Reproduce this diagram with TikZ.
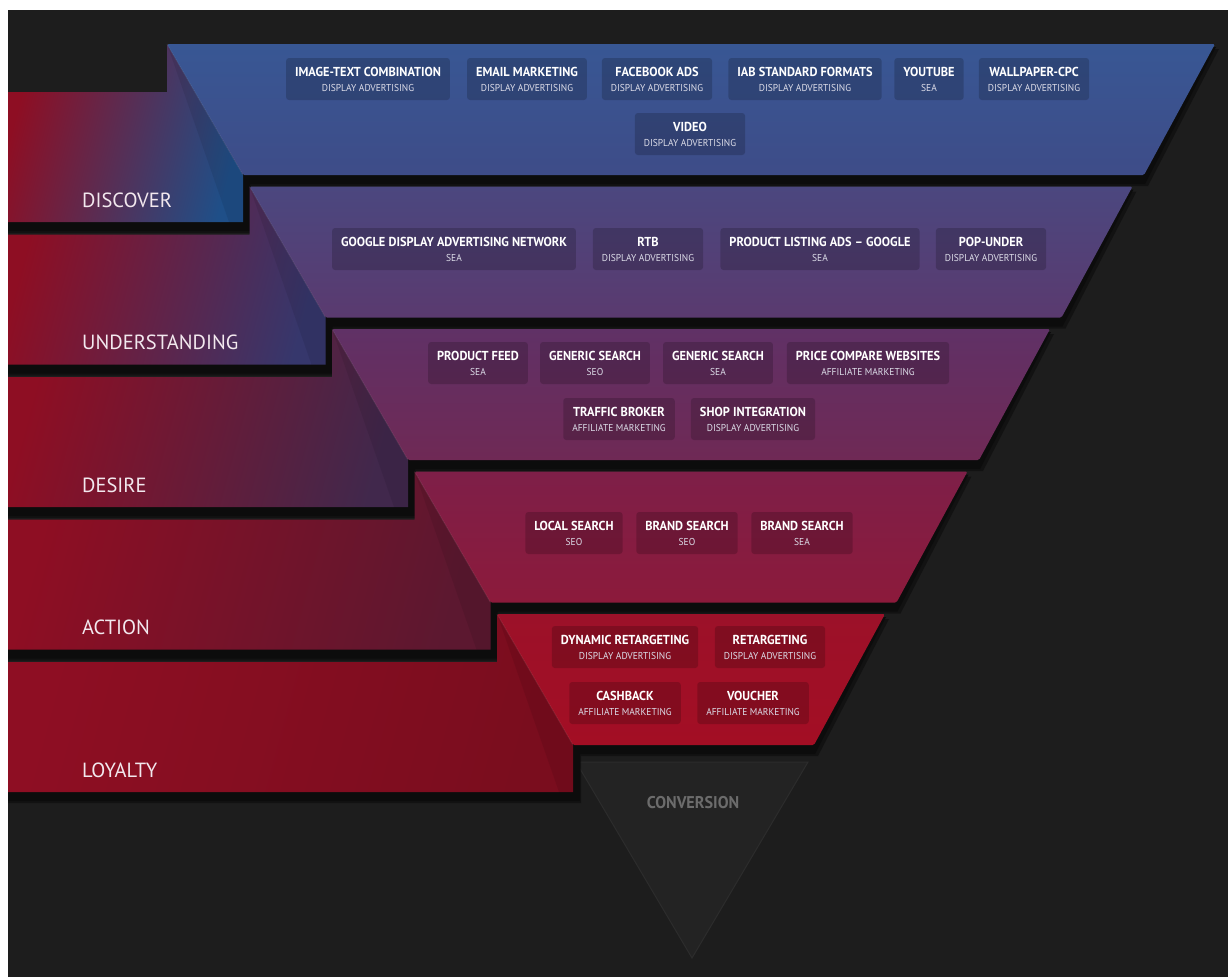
\documentclass[tikz,border=0pt]{standalone}
\usepackage{fontspec}
\setmainfont{PT Sans}
\newfontfamily\chipfont[FakeStretch=0.95]{PT Sans}
\usetikzlibrary{calc}

% page and background
\definecolor{pagebg}{HTML}{1D1D1D}
\definecolor{shadowc}{HTML}{0C0C0C}
% front faces of the five funnel levels (top / bottom)
\definecolor{fa1}{HTML}{385794}\definecolor{fb1}{HTML}{3E4C88}
\definecolor{fa2}{HTML}{4B477F}\definecolor{fb2}{HTML}{5A3A6F}
\definecolor{fa3}{HTML}{603166}\definecolor{fb3}{HTML}{6F2955}
\definecolor{fa4}{HTML}{7E1F48}\definecolor{fb4}{HTML}{8C1A3B}
\definecolor{fa5}{HTML}{9C1129}\definecolor{fb5}{HTML}{A30E24}
% side faces: red on the left, level tint on the right
\definecolor{sideleft}{HTML}{8E0E23}
\definecolor{sr1}{HTML}{1F4F88}
\definecolor{sr2}{HTML}{36376C}
\definecolor{sr3}{HTML}{41284C}
\definecolor{sr4}{HTML}{5C1830}
\definecolor{sr5}{HTML}{7A0D1E}
\definecolor{labeltext}{HTML}{F2E8EE}
\definecolor{subtext}{HTML}{DCDCE8}
\definecolor{convfill}{HTML}{232323}
\definecolor{convedge}{HTML}{2C2C2C}
\definecolor{convtext}{HTML}{6C6C6C}

\newcommand\chiptxt[2]{{\bfseries\fontsize{13}{14}\selectfont #1}\\[3pt]{\fontsize{10}{11}\selectfont\color{subtext}#2}}

\begin{document}
\begin{tikzpicture}[x=1pt,y=-1pt,
  chip/.style={fill=black, fill opacity=0.18, text opacity=1, text=white,
    rounded corners=3pt, inner xsep=9pt, inner ysep=3pt, align=center,
    minimum height=42pt, font=\chipfont},
  bandlabel/.style={text=labeltext, inner sep=0pt, anchor=base west,
    font=\fontsize{20.5}{22}\selectfont},
  convlabel/.style={text=convtext, inner sep=0pt,
    font=\chipfont\bfseries\fontsize{17}{19}\selectfont}]

\useasboundingbox (0,0) rectangle (1228,977);
\fill[white] (0,0) rectangle (1228,977);
\fill[pagebg] (8,10) rectangle (1228,977);

% conversion triangle below the funnel
\filldraw[fill=convfill, draw=convedge, line width=1pt] (576,762) -- (808,762) -- (692,958) -- cycle;
\node[convlabel] (conv) at (693,803) {CONVERSION};

% drop shadows of the five levels
\foreach \i in {1,...,5} {
  \pgfmathsetmacro\T{44+142.5*(\i-1)}
  \pgfmathsetmacro\B{\T+131}
  \pgfmathsetmacro\BT{\T+48}
  \pgfmathsetmacro\BB{\T+178}
  \pgfmathsetmacro\xL{167+82.5*(\i-1)}
  \pgfmathsetmacro\xLb{\xL+76}
  \pgfmathsetmacro\xR{1215-82.5*(\i-1)}
  \pgfmathsetmacro\xRb{\xR-71}
  \fill[shadowc, opacity=0.6] (8,{\BT+5}) -- ({\xL+4},{\BT+5}) -- ({\xL+4},{\T+5}) -- ({\xR+4},{\T+5})
     -- ({\xRb+4},{\B+11}) -- ({\xLb+8},{\B+11}) -- ({\xLb+8},{\BB+11}) -- (8,{\BB+11}) -- cycle;
  \fill[shadowc] (8,{\BT+3}) -- ({\xL+2},{\BT+3}) -- ({\xL+2},{\T+3}) -- ({\xR+1},{\T+3})
     -- ({\xRb+1},{\B+9}) -- ({\xLb+7},{\B+9}) -- ({\xLb+7},{\BB+9}) -- (8,{\BB+9}) -- cycle;
}

% the five levels: side face with label band, and front trapezoid
\foreach \i in {1,...,5} {
  \pgfmathsetmacro\T{44+142.5*(\i-1)}
  \pgfmathsetmacro\B{\T+131}
  \pgfmathsetmacro\BT{\T+48}
  \pgfmathsetmacro\BB{\T+178}
  \pgfmathsetmacro\xL{167+82.5*(\i-1)}
  \pgfmathsetmacro\xLb{\xL+76}
  \pgfmathsetmacro\xR{1215-82.5*(\i-1)}
  \pgfmathsetmacro\xRb{\xR-71}
  \shade[left color=sideleft, right color=sr\i, shading angle=75]
     (8,\BT) -- (\xL,\BT) -- (\xL,\T) -- (\xLb,\B) -- (\xLb,\BB) -- (8,\BB) -- cycle;
  \fill[black, opacity=0.08] (\xL,\T) -- (\xLb,\B) -- (\xLb,\BB) -- ({\xLb-14},\BB) -- cycle;
  \shade[top color=fa\i, bottom color=fb\i, rounded corners=1.5pt]
     (\xL,\T) -- (\xR,\T) -- (\xRb,\B) -- (\xLb,\B) -- cycle;
  \draw[white, opacity=0.07, line width=1pt] (\xL,\T) -- (\xLb,\B);
}

% level labels
\node[bandlabel] (discover) at (82,207) {DISCOVER};
\node[bandlabel] (understanding) at (82,349.5) {UNDERSTANDING};
\node[bandlabel] (desire) at (82,492) {DESIRE};
\node[bandlabel] (action) at (82,634.5) {ACTION};
\node[bandlabel] (loyalty) at (82,777) {LOYALTY};

% DISCOVER channels
\node[chip] (imagetext) at (368,79) {\chiptxt{IMAGE-TEXT COMBINATION}{DISPLAY ADVERTISING}};
\node[chip] (email) at (527,79) {\chiptxt{EMAIL MARKETING}{DISPLAY ADVERTISING}};
\node[chip] (facebook) at (657,79) {\chiptxt{FACEBOOK ADS}{DISPLAY ADVERTISING}};
\node[chip] (iab) at (805,79) {\chiptxt{IAB STANDARD FORMATS}{DISPLAY ADVERTISING}};
\node[chip] (youtube) at (929,79) {\chiptxt{YOUTUBE}{SEA}};
\node[chip] (wallpaper) at (1034,79) {\chiptxt{WALLPAPER-CPC}{DISPLAY ADVERTISING}};
\node[chip] (video) at (690,134) {\chiptxt{VIDEO}{DISPLAY ADVERTISING}};

% UNDERSTANDING channels
\node[chip] (gdn) at (454,249) {\chiptxt{GOOGLE DISPLAY ADVERTISING NETWORK}{SEA}};
\node[chip] (rtb) at (648,249) {\chiptxt{RTB}{DISPLAY ADVERTISING}};
\node[chip] (pla) at (820,249) {\chiptxt{PRODUCT LISTING ADS – GOOGLE}{SEA}};
\node[chip] (popunder) at (991,249) {\chiptxt{POP-UNDER}{DISPLAY ADVERTISING}};

% DESIRE channels
\node[chip] (feed) at (478,363) {\chiptxt{PRODUCT FEED}{SEA}};
\node[chip] (genseo) at (595,363) {\chiptxt{GENERIC SEARCH}{SEO}};
\node[chip] (gensea) at (718,363) {\chiptxt{GENERIC SEARCH}{SEA}};
\node[chip] (compare) at (868,363) {\chiptxt{PRICE COMPARE WEBSITES}{AFFILIATE MARKETING}};
\node[chip] (broker) at (619,419) {\chiptxt{TRAFFIC BROKER}{AFFILIATE MARKETING}};
\node[chip] (shop) at (753,419) {\chiptxt{SHOP INTEGRATION}{DISPLAY ADVERTISING}};

% ACTION channels
\node[chip] (local) at (574,533) {\chiptxt{LOCAL SEARCH}{SEO}};
\node[chip] (brandseo) at (687,533) {\chiptxt{BRAND SEARCH}{SEO}};
\node[chip] (brandsea) at (802,533) {\chiptxt{BRAND SEARCH}{SEA}};

% LOYALTY channels
\node[chip] (dynret) at (625,647) {\chiptxt{DYNAMIC RETARGETING}{DISPLAY ADVERTISING}};
\node[chip] (retarget) at (770,647) {\chiptxt{RETARGETING}{DISPLAY ADVERTISING}};
\node[chip] (cashback) at (625,703) {\chiptxt{CASHBACK}{AFFILIATE MARKETING}};
\node[chip] (voucher) at (753,703) {\chiptxt{VOUCHER}{AFFILIATE MARKETING}};

\end{tikzpicture}
\end{document}
